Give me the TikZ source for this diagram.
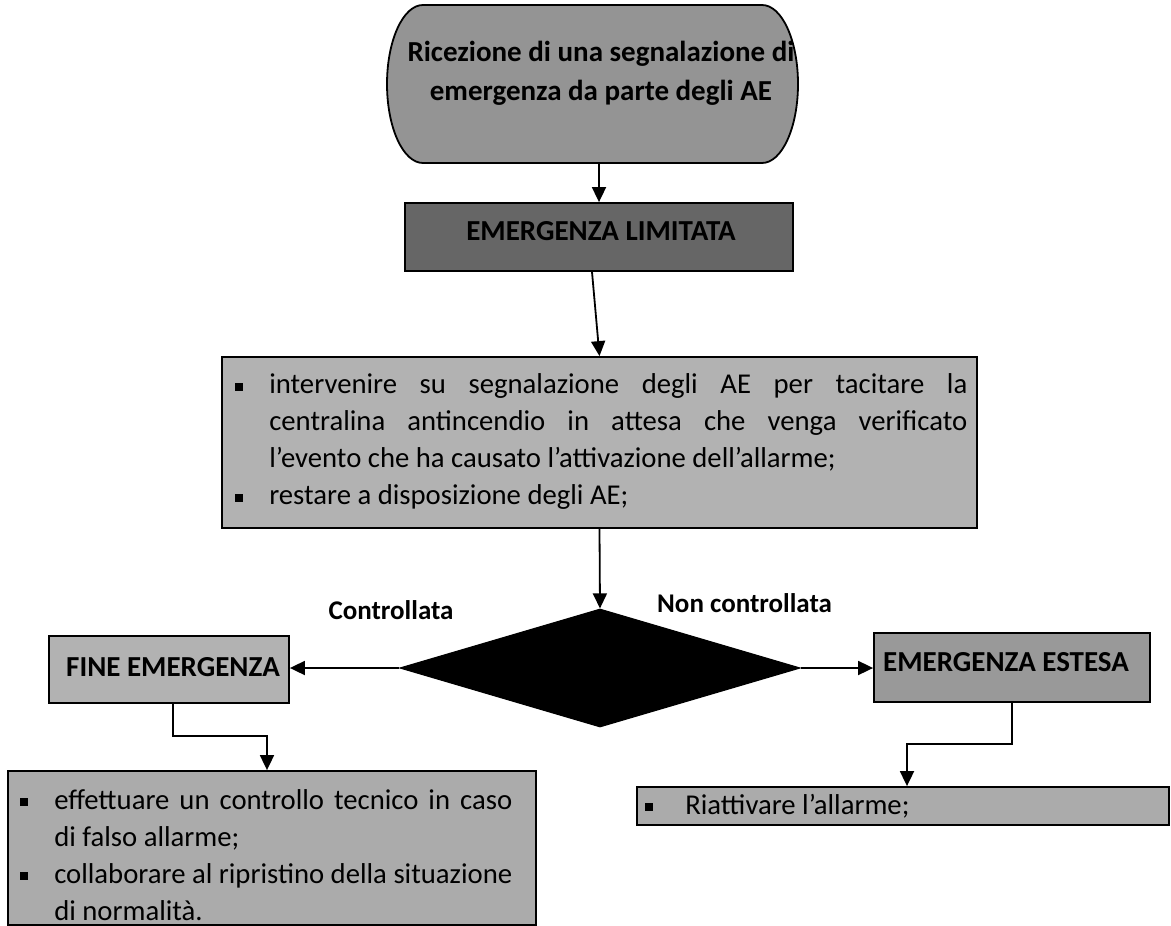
\documentclass[tikz,border=0pt]{standalone}
\usepackage{fontspec}
\setmainfont{Carlito}
\usetikzlibrary{shapes.geometric,arrows.meta}
\newcommand{\sqb}{\rule[3pt]{8pt}{8pt}}
\begin{document}
\begin{tikzpicture}[x=1pt,y=-1pt,
  conn/.style={line width=1.8pt},
  arr/.style={conn,-{Triangle[width=14pt,length=15pt]}},
  boxn/.style={draw,line width=1.8pt,rectangle,inner sep=0pt},
  big/.style={font=\fontsize{29}{39}\selectfont\bfseries,inner sep=0pt,align=center},
  body/.style={font=\fontsize{28.7}{37}\selectfont,inner sep=0pt,align=left},
  lab/.style={font=\fontsize{27}{32}\selectfont\bfseries,inner sep=0pt}]
\useasboundingbox (0,0) rectangle (1171,926);

% top terminator
\filldraw[fill=black!42,line width=1.8pt] (423,5) -- (762,5)
  arc[start angle=-90,end angle=90,x radius=36,y radius=79] -- (423,163)
  arc[start angle=90,end angle=270,x radius=36,y radius=79] -- cycle;
\node[minimum width=411pt,minimum height=158pt,inner sep=0pt] (top) at (592,84) {};
\node[big] (toptext) at (601,73) {Ricezione di una segnalazione di\\emergenza da parte degli AE};

% emergenza limitata
\node[boxn,fill=black!60,minimum width=388pt,minimum height=68pt] (lim) at (599,237) {};
\node[big] (limtext) at (601,231) {EMERGENZA LIMITATA};

% actions box
\node[boxn,fill=black!30,minimum width=755pt,minimum height=171pt] (act) at (599.5,442.5) {};
\node[body,anchor=west] (acttext) at ([xshift=14pt,yshift=1pt]act.west) {%
\makebox[34pt][l]{\sqb}\makebox[698pt][s]{intervenire su segnalazione degli AE per tacitare la}\\
\hspace*{34pt}\makebox[698pt][s]{centralina antincendio in attesa che venga verificato}\\
\hspace*{34pt}l’evento che ha causato l’attivazione dell’allarme;\\
\makebox[34pt][l]{\sqb}restare a disposizione degli AE;};

% decision
\node[diamond,draw,fill=black,line width=1.2pt,inner sep=0pt,minimum width=400pt,minimum height=118pt] (dec) at (600,668) {};
\node[lab] (lc) at (391,610) {Controllata};
\node[lab,anchor=west] (lnc) at (657,603) {Non controllata};

% outcomes
\node[boxn,fill=black!30,minimum width=240pt,minimum height=67pt] (fine) at (169,669.5) {};
\node[big] (finetext) at (173,667) {FINE EMERGENZA};
\node[boxn,fill=black!40,minimum width=276pt,minimum height=69pt] (est) at (1012,667.5) {};
\node[big] (esttext) at (1006,662) {EMERGENZA ESTESA};

\node[boxn,fill=black!33,minimum width=528pt,minimum height=154pt] (bl) at (272,848) {};
\node[body,anchor=west] (bltext) at ([xshift=13pt,yshift=-7pt]bl.west) {%
\makebox[34pt][l]{\sqb}\makebox[458pt][s]{effettuare un controllo tecnico in caso}\\
\hspace*{34pt}di falso allarme;\\
\makebox[34pt][l]{\sqb}\makebox[458pt][s]{collaborare al ripristino della situazione}\\
\hspace*{34pt}di normalità.};

\node[boxn,fill=black!33,minimum width=532pt,minimum height=38pt] (br) at (903,806) {};
\node[body,anchor=west] (brtext) at ([xshift=9pt]br.west) {\makebox[40pt][l]{\sqb}Riattivare l’allarme;};

% connectors
\draw[arr] (top.south -| lim.north) -- (lim.north);
\draw[arr] ([xshift=-7pt]lim.south) -- (act.north);
\draw[arr] (act.south) -- (dec.north);
\draw[arr] (dec.west) -- (dec.west -| fine.east);
\draw[arr] (dec.east) -- (dec.east -| est.west);
\coordinate (k1) at (267,736);
\draw[arr] ([xshift=4pt]fine.south) |- (k1) -- (k1 |- bl.north);
\coordinate (k2) at (907,744);
\draw[arr] (est.south) |- (k2) -- (k2 |- br.north);
\end{tikzpicture}
\end{document}
